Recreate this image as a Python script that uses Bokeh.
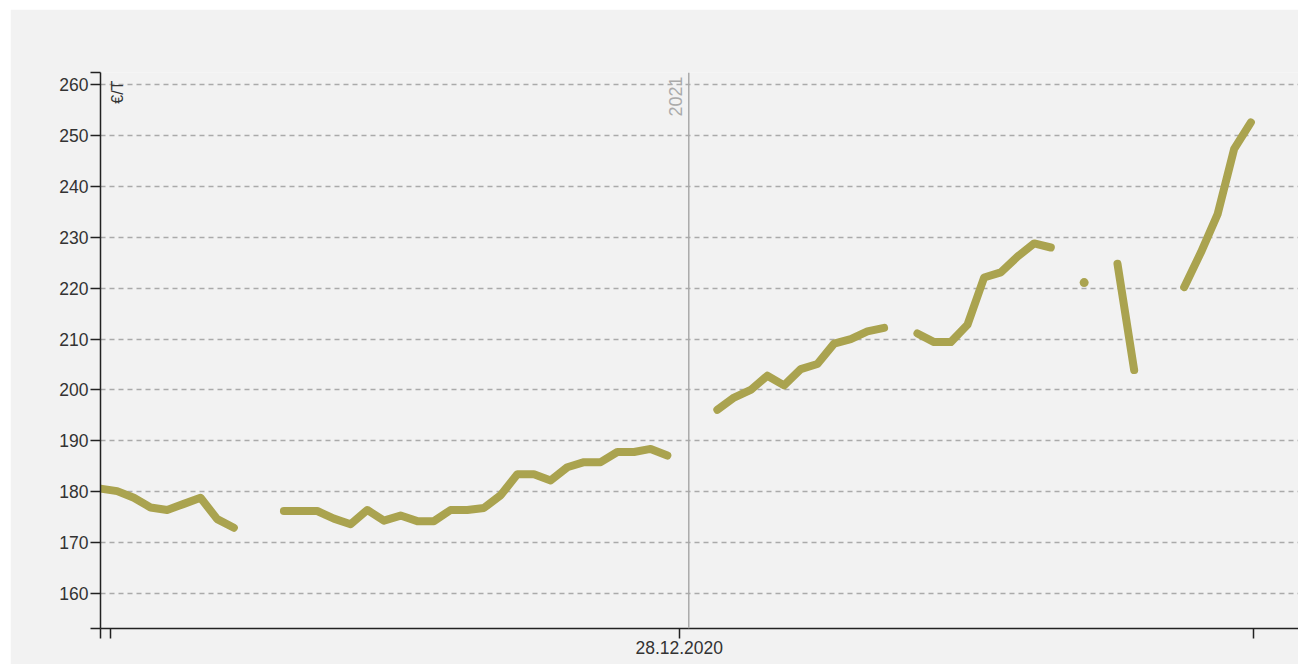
import numpy as np
import pandas as pd
from bokeh.plotting import figure
from bokeh.models import Range1d, FixedTicker, Span, Label, ColumnDataSource
from bokeh.embed import file_html
from bokeh.resources import INLINE

# ---- data (weekly prices, €/T; None = no quote) ----
start_date = "2020-04-29"
prices = [
    180.6, 180.1, 178.8, 176.9, 176.4, 177.6, 178.8, 174.6, 172.9, None,
    None, 176.2, 176.2, 176.2, 174.7, 173.6, 176.4, 174.3, 175.3, 174.2,
    174.2, 176.4, 176.4, 176.8, 179.3, 183.4, 183.4, 182.2, 184.8, 185.8,
    185.8, 187.8, 187.8, 188.4, 187.1, None, None, 196.1, 198.5, 200.0,
    202.8, 200.9, 204.1, 205.1, 209.1, 210.0, 211.5, 212.2, None, 211.1,
    209.4, 209.4, 212.8, 222.1, 223.1, 226.2, 228.8, 228.0, None, 221.1,
    None, 224.8, 203.9, None, None, 220.2, 227.0, 234.5, 247.4, 252.6,
]
end_date = "2021-09-14"
x_tick_dates = ["2020-04-29", "2020-05-03", "2020-12-28", "2021-08-26"]
x_tick_labels = ["", "", "28.12.2020", ""]
y_min, y_max = 153.1, 262.4
y_ticks = [160, 170, 180, 190, 200, 210, 220, 230, 240, 250, 260]
unit_label = "€/T"
year_label = "2021"
year_date = "2021-01-01"

LINE_COLOR = "#aaa34f"
BG = "#f2f2f2"
FONT = "Liberation Sans"


def ms(d):
    return pd.Timestamp(d).value / 1e6


dates = pd.date_range(start_date, periods=len(prices), freq="7D")
x_ms = np.array([ms(d) for d in dates])
y = np.array([np.nan if v is None else v for v in prices], dtype=float)

# isolated points (no neighbours) are drawn as dots
iso = []
for i in range(len(y)):
    if np.isnan(y[i]):
        continue
    left = np.isnan(y[i - 1]) if i > 0 else True
    right = np.isnan(y[i + 1]) if i < len(y) - 1 else True
    if left and right:
        iso.append(i)

p = figure(
    width=1288, height=655,
    x_axis_type="datetime",
    x_range=Range1d(ms(start_date), ms(end_date)),
    y_range=Range1d(y_min, y_max),
    output_backend="svg", toolbar_location=None,
    min_border_left=90, min_border_right=0,
    min_border_top=63, min_border_bottom=36,
    margin=(9, 0, 0, 10),
)
p.background_fill_color = BG
p.border_fill_color = BG
p.outline_line_color = None

src = ColumnDataSource(dict(x=x_ms, y=y))
p.line("x", "y", source=src, line_color=LINE_COLOR, line_width=8,
       line_cap="round", line_join="round")
p.scatter(x_ms[iso], y[iso], size=9, fill_color=LINE_COLOR, line_color=None)

# axes
x_ticks = [ms(d) for d in x_tick_dates]
p.xaxis.ticker = FixedTicker(ticks=x_ticks)
p.xaxis.major_label_overrides = {t: l for t, l in zip(x_ticks, x_tick_labels)}
y_axis_ticks = [y_min] + y_ticks + [y_max]
p.yaxis.ticker = FixedTicker(ticks=y_axis_ticks)
p.yaxis.major_label_overrides = {y_min: "", y_max: ""}

for ax in (p.xaxis[0], p.yaxis[0]):
    ax.axis_line_color = "#222222"
    ax.axis_line_width = 1.5
    ax.major_tick_line_color = "#222222"
    ax.major_tick_line_width = 1.5
    ax.major_tick_out = 10
    ax.major_tick_in = 0
    ax.minor_tick_line_color = None
    ax.major_label_text_font = FONT
    ax.major_label_text_font_size = "17.5px"
    ax.major_label_text_color = "#333333"
    ax.major_label_standoff = 2

p.xgrid.grid_line_color = None
p.ygrid.ticker = FixedTicker(ticks=y_ticks)
p.ygrid.grid_line_color = "#aaaaaa"
p.ygrid.grid_line_width = 1.5
p.ygrid.grid_line_dash = "5 4"

# year separator
p.add_layout(Span(location=ms(year_date), dimension="height",
                  line_color="#aaaaaa", line_width=1.5))
p.add_layout(Label(x=ms(year_date), y=261.6, x_offset=-7, text=year_label,
                   angle=np.pi / 2, text_align="right", text_baseline="bottom",
                   text_font=FONT, text_font_size="18px", text_color="#aaaaaa"))

# unit label
p.add_layout(Label(x=ms(start_date), y=260.8, x_offset=8, text=unit_label,
                   angle=np.pi / 2, text_align="right", text_baseline="top",
                   text_font=FONT, text_font_size="16px", text_color="#333333"))

open("out.html", "w").write(file_html(p, INLINE))
